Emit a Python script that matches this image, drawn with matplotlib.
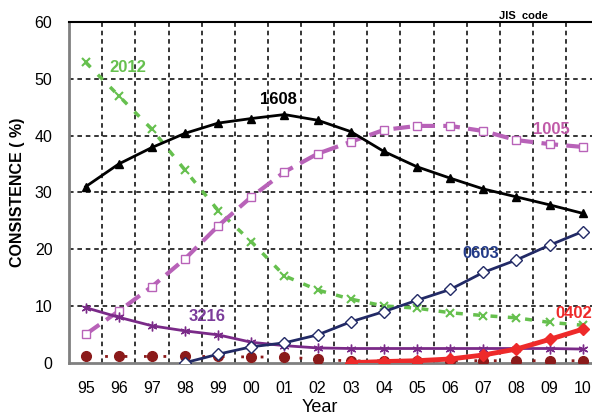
import numpy as np
import matplotlib
matplotlib.use('Agg')
import matplotlib.pyplot as plt

plt.rcParams['font.family'] = ['Liberation Sans', 'DejaVu Sans']

# data
years = ['95', '96', '97', '98', '99', '00', '01', '02',
         '03', '04', '05', '06', '07', '08', '09', '10']
nan = np.nan
s1608 = [31.0, 35.0, 37.9, 40.4, 42.2, 43.0, 43.7, 42.7,
         40.7, 37.2, 34.5, 32.5, 30.6, 29.2, 27.8, 26.3]
s2012 = [52.9, 47.0, 41.1, 33.9, 26.8, 21.3, 15.3, 12.8,
         11.2, 10.0, 9.6, 8.8, 8.3, 7.9, 7.1, 6.6]
s1005 = [5.0, 9.1, 13.4, 18.3, 24.1, 29.2, 33.6, 36.8,
         38.9, 41.0, 41.7, 41.7, 40.8, 39.2, 38.5, 38.0]
s3216 = [9.7, 8.0, 6.5, 5.6, 4.9, 3.6, 3.0, 2.6,
         2.5, 2.5, 2.5, 2.5, 2.5, 2.5, 2.5, 2.4]
s0603 = [nan, nan, nan, 0.0, 1.5, 2.8, 3.5, 4.9,
         7.2, 9.0, 11.0, 12.9, 15.9, 18.1, 20.7, 23.1]
s0402 = [nan, nan, nan, nan, nan, nan, nan, nan,
         0.0, 0.2, 0.35, 0.65, 1.35, 2.4, 4.1, 5.9]
sother = [1.1, 1.1, 1.1, 1.1, 1.1, 1.0, 1.0, 0.6,
          0.3, 0.35, 0.35, 0.35, 0.35, 0.35, 0.35, 0.35]

x = np.arange(len(years))

fig = plt.figure(figsize=(5.92, 4.17), dpi=100)
ax = fig.add_axes([69.1/592, 54.3/417, 530.2/592, 340.7/417])

ax.set_xlim(-0.5, 15.5)
ax.set_ylim(0, 60)
ax.set_xticks(x)
ax.set_xticklabels(years)
ax.set_xticks(np.arange(-0.5, 16, 1), minor=True)
ax.set_yticks(np.arange(0, 61, 10))
ax.tick_params(axis='both', which='both', length=0, labelsize=11.5)
ax.tick_params(axis='x', pad=13)
ax.tick_params(axis='y', pad=12)

# dashed grid: x lines between the years, y lines at the major ticks
for v in ax.get_xticks(minor=True)[1:]:
    ax.axvline(v, color='black', linestyle='--', dashes=(3, 2.5), linewidth=1.1, zorder=2)
for v in ax.get_yticks()[1:-1]:
    ax.axhline(v, color='black', linestyle='--', dashes=(3, 2.5), linewidth=1.1, zorder=2)

ax.plot(x, sother, color='#8b1a1a', linewidth=2, linestyle=(0, (1, 6)),
        marker='o', markersize=7, zorder=3)
ax.plot(x, s2012, color='#66c04e', linewidth=2.5, linestyle=(0, (2, 3)),
        marker='x', markersize=6, markeredgewidth=1.5, zorder=3)
ax.plot(x, s1005, color='#b862b8', linewidth=3, linestyle=(0, (4, 2)),
        marker='s', markersize=6, markerfacecolor='white', markeredgewidth=1, zorder=3)
ax.plot(x, s1608, color='black', linewidth=2, marker='^', markersize=6, zorder=4)
ax.plot(x, s3216, color='#7a2a88', linewidth=2, marker=(6, 2, 0), markersize=7,
        markeredgewidth=1, zorder=3)
ax.plot(x, s0603, color='#222a66', linewidth=2, marker='D', markersize=6,
        markerfacecolor='white', markeredgewidth=1, zorder=4)
ax.plot(x, s0402, color='#ee2a2a', linewidth=3.5, marker='D', markersize=6, zorder=4)

# series labels
ax.text(1.28, 51.9, '2012', color='#66c04e', fontsize=12, fontweight='bold', ha='center', va='center')
ax.text(5.83, 46.3, '1608', color='black', fontsize=12, fontweight='bold', ha='center', va='center')
ax.text(14.05, 41.0, '1005', color='#c05aa8', fontsize=12, fontweight='bold', ha='center', va='center')
ax.text(3.66, 8.1, '3216', color='#7b3c9a', fontsize=12, fontweight='bold', ha='center', va='center')
ax.text(11.93, 19.3, '0603', color='#223a88', fontsize=12, fontweight='bold', ha='center', va='center')
ax.text(14.72, 8.75, '0402', color='#ee2a2a', fontsize=12, fontweight='bold', ha='center', va='center')

ax.spines['left'].set_color('#808080')
ax.spines['left'].set_linewidth(2)
ax.spines['bottom'].set_color('#808080')
ax.spines['bottom'].set_linewidth(2)
ax.spines['top'].set_color('black')
ax.spines['top'].set_linewidth(1.5)
ax.spines['right'].set_visible(False)

ax.set_ylabel('CONSISTENCE ( %)', fontsize=11.5, fontweight='bold')
ax.yaxis.set_label_coords(-0.083, 0.5)
fig.text(320/592, 1 - 412/417, 'Year', fontsize=13, ha='center', va='baseline')
fig.text(523/592, 1 - 16/417, 'JIS  code', fontsize=8, fontweight='bold', ha='center', va='center',
         family=['Liberation Sans Narrow', 'Liberation Sans', 'DejaVu Sans'])

fig.savefig('out.png', dpi=100)
